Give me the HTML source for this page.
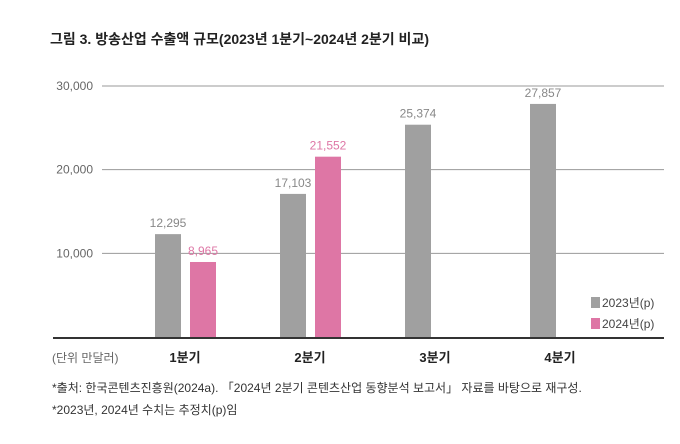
<!DOCTYPE html>
<html><head><meta charset="utf-8"><style>
body{margin:0;background:#fff;width:680px;height:439px;overflow:hidden;font-family:"Liberation Sans","Noto Sans CJK KR",sans-serif}
svg text{font-family:"Liberation Sans","Noto Sans CJK KR",sans-serif}
</style></head><body>
<svg width="680" height="439">
<text x="50" y="44" font-size="14" font-weight="bold" fill="#222">그림 3. 방송산업 수출액 규모(2023년 1분기~2024년 2분기 비교)</text>
<g id="plot"></g>
<text x="52" y="362" font-size="12" fill="#666">(단위 만달러)</text>
<rect x="591" y="297" width="9" height="11" fill="#a0a0a0"/>
<text x="602" y="307" font-size="12" fill="#444">2023년(p)</text>
<rect x="591" y="318" width="9" height="11" fill="#de76a5"/>
<text x="602" y="328" font-size="12" fill="#444">2024년(p)</text>
<text x="52" y="392" font-size="12" fill="#333">*출처: 한국콘텐츠진흥원(2024a). 「2024년 2분기 콘텐츠산업 동향분석 보고서」 자료를 바탕으로 재구성.</text>
<text x="52" y="414" font-size="12" fill="#333">*2023년, 2024년 수치는 추정치(p)임</text>
</svg>
<script>
const categories=["1분기","2분기","3분기","4분기"];
const values2023=[12295,17103,25374,27857];
const values2024=[8965,21552,null,null];
const ticks=[10000,20000,30000];
const ns="http://www.w3.org/2000/svg";
const g=document.getElementById("plot");
const y0=337,yTop=86,maxV=30000;
const yScale=v=>y0-(y0-yTop)*v/maxV;
const catX=i=>168+i*125;
function mk(t,a){const e=document.createElementNS(ns,t);for(const k in a)e.setAttribute(k,a[k]);g.appendChild(e);return e;}
ticks.forEach(t=>{
 const l=mk("line",{x1:102,x2:664,y1:yScale(t),y2:yScale(t),stroke:"#999","stroke-width":1});
 
 
 const tx=mk("text",{x:93,y:yScale(t)+4,"font-size":12,fill:"#666","text-anchor":"end"});
 tx.textContent=t.toLocaleString("en-US");
 
 
});
const bw=26;
categories.forEach((c,i)=>{
 const cx=catX(i);
 const v1=values2023[i];
 const b1=mk("rect",{x:cx-13,y:yScale(v1),width:bw,height:y0-yScale(v1),fill:"#a0a0a0"});
 
 
 const t1=mk("text",{x:cx,y:yScale(v1)-7,"font-size":12,fill:"#888","text-anchor":"middle"});
 t1.textContent=v1.toLocaleString("en-US");
 
 
 const v2=values2024[i];
 if(v2!=null){
  const b2=mk("rect",{x:cx+22,y:yScale(v2),width:bw,height:y0-yScale(v2),fill:"#de76a5"});
  
  
  const t2=mk("text",{x:cx+35,y:yScale(v2)-7,"font-size":12,fill:"#de76a5","text-anchor":"middle"});
  t2.textContent=v2.toLocaleString("en-US");
  
  
 }
 const ct=mk("text",{x:cx+17,y:362,"font-size":13,"font-weight":"bold",fill:"#222","text-anchor":"middle"});
 ct.textContent=c;
 
 
});
const ax=mk("line",{x1:53,x2:664,y1:y0+1,y2:y0+1,stroke:"#333","stroke-width":2});


</script>
</body></html>
